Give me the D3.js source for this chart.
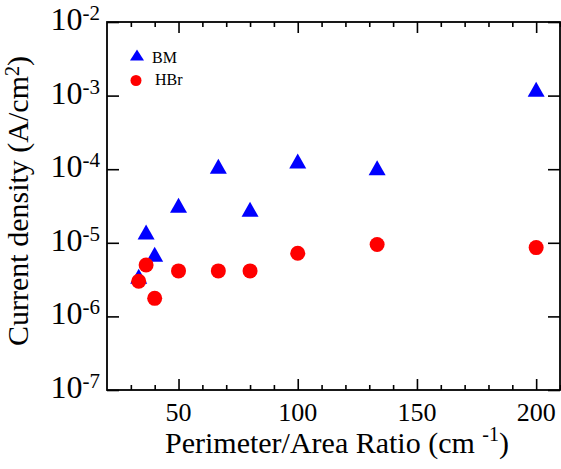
<!DOCTYPE html>
<html>
<head>
<meta charset="utf-8">
<script src="https://cdn.jsdelivr.net/npm/d3@7"></script>
<style>
  html, body { margin: 0; padding: 0; background: #fff; }
  svg { display: block; }
</style>
</head>
<body>
<svg id="chart" width="561" height="469"></svg>
<script>
// Perimeter/area ratio (cm^-1) of the measured devices
const ratios = [33.3, 36.4, 40, 50, 66.7, 80, 100, 133.3, 200];
// Current density (A/cm^2) per treatment
const bmValues  = [3.5e-6, 1.4e-5, 7.0e-6, 3.25e-5, 1.1e-4, 2.85e-5, 1.29e-4, 1.05e-4, 1.22e-3];
const hbrValues = [3.0e-6, 5.0e-6, 1.76e-6, 4.15e-6, 4.15e-6, 4.15e-6, 7.2e-6, 9.5e-6, 8.6e-6];
// Axis ticks
const xMajorTicks = [50, 100, 150, 200];
const xMinorTicks = [30, 40, 60, 70, 80, 90, 110, 120, 130, 140, 160, 170, 180, 190, 210];
const yExponents = [-7, -6, -5, -4, -3, -2];
const seriesNames = ["BM", "HBr"];

const FONT = "'Liberation Serif', 'Times New Roman', serif";
const svg = d3.select("#chart");
const plot = { left: 107, right: 560, top: 22, bottom: 390 };

const x = d3.scaleLinear().domain([20, 210]).range([plot.left, plot.right]);
const y = d3.scaleLog().domain([1e-7, 1e-2]).range([plot.bottom, plot.top]);
const yTicks = yExponents.map(e => Math.pow(10, e));

const axisStyle = g => {
  g.select(".domain").remove();
  g.selectAll("line").attr("stroke", "#000").attr("stroke-width", 1.6);
};

// Bottom & top: major and minor ticks pointing into the plot
svg.append("g").attr("transform", `translate(0,${plot.bottom})`)
  .call(d3.axisBottom(x).tickValues(xMajorTicks).tickSize(-11).tickFormat(""))
  .call(axisStyle);
svg.append("g").attr("transform", `translate(0,${plot.bottom})`)
  .call(d3.axisBottom(x).tickValues(xMinorTicks).tickSize(-5).tickFormat(""))
  .call(axisStyle);
svg.append("g").attr("transform", `translate(0,${plot.top})`)
  .call(d3.axisTop(x).tickValues(xMajorTicks).tickSize(-11).tickFormat(""))
  .call(axisStyle);
svg.append("g").attr("transform", `translate(0,${plot.top})`)
  .call(d3.axisTop(x).tickValues(xMinorTicks).tickSize(-5).tickFormat(""))
  .call(axisStyle);

// Left & right: decade ticks
svg.append("g").attr("transform", `translate(${plot.left},0)`)
  .call(d3.axisLeft(y).tickValues(yTicks).tickSize(-12).tickFormat(""))
  .call(axisStyle);
svg.append("g").attr("transform", `translate(${plot.right},0)`)
  .call(d3.axisRight(y).tickValues(yTicks).tickSize(-12).tickFormat(""))
  .call(axisStyle);

// Frame
svg.append("rect")
  .attr("x", plot.left).attr("y", plot.top)
  .attr("width", plot.right - plot.left).attr("height", plot.bottom - plot.top)
  .attr("fill", "none").attr("stroke", "#000").attr("stroke-width", 1.8);

// X tick labels
svg.append("g").selectAll("text").data(xMajorTicks).join("text")
  .attr("x", d => x(d)).attr("y", 421)
  .attr("text-anchor", "middle")
  .attr("font-size", 26)
  .style("font-family", FONT)
  .text(d => d);

// Y tick labels as 10^n
const yl = svg.append("g").selectAll("text").data(yExponents).join("text")
  .attr("x", 100).attr("y", d => y(Math.pow(10, d)) + 8)
  .attr("text-anchor", "end")
  .attr("font-size", 32)
  .style("font-family", FONT);
yl.append("tspan").text("10");
yl.append("tspan").attr("dy", -10).attr("font-size", 21).text(d => d);

// Axis titles
const xt = svg.append("text")
  .attr("x", 337).attr("y", 453)
  .attr("text-anchor", "middle")
  .attr("font-size", 30)
  .style("font-family", FONT);
xt.append("tspan").text("Perimeter/Area Ratio (cm ");
xt.append("tspan").attr("dy", -12).attr("font-size", 20).text("-1");
xt.append("tspan").attr("dy", 12).text(")");

const yt = svg.append("text")
  .attr("transform", "translate(28,201) rotate(-90)")
  .attr("text-anchor", "middle")
  .attr("font-size", 30)
  .style("font-family", FONT);
yt.append("tspan").text("Current density (A/cm");
yt.append("tspan").attr("dy", -9).attr("font-size", 20).text("2");
yt.append("tspan").attr("dy", 9).text(")");

// Markers
const triPath = (w, h) => `M0,${-h / 2}L${w / 2},${h / 2}L${-w / 2},${h / 2}Z`;

svg.append("g").selectAll("path").data(ratios).join("path")
  .attr("d", triPath(17, 15))
  .attr("transform", (d, i) => `translate(${x(d)},${y(bmValues[i])})`)
  .attr("fill", "#0000ff");

svg.append("g").selectAll("circle").data(ratios).join("circle")
  .attr("cx", d => x(d)).attr("cy", (d, i) => y(hbrValues[i]))
  .attr("r", 7.5)
  .attr("fill", "#ff0000");

// Legend
const lg = svg.append("g");
lg.append("path").attr("d", triPath(14, 11))
  .attr("transform", "translate(137,55)").attr("fill", "#0000ff");
lg.append("circle").attr("cx", 136).attr("cy", 80.5).attr("r", 5.5).attr("fill", "#ff0000");
lg.append("text").attr("x", 152).attr("y", 63).attr("font-size", 16)
  .style("font-family", FONT).text(seriesNames[0]);
lg.append("text").attr("x", 155).attr("y", 85).attr("font-size", 16)
  .style("font-family", FONT).text(seriesNames[1]);
</script>
</body>
</html>
